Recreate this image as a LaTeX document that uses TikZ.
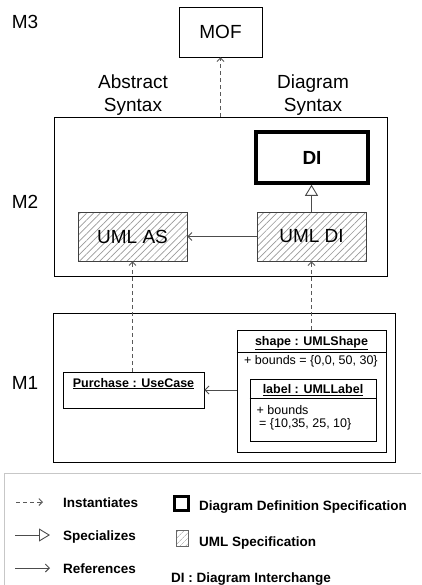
\documentclass[tikz,border=0pt]{standalone}
\usepackage{fontspec}
\setmainfont{Liberation Sans}
\usetikzlibrary{arrows.meta, positioning, patterns.meta}

\begin{document}
\begin{tikzpicture}[
    x=1pt, y=-1pt,
    lbl/.style={font=\fontsize{19}{23}\selectfont, align=center, inner sep=0pt},
    box/.style={draw, rectangle, line width=0.9pt, inner sep=0pt, font=\fontsize{19}{23}\selectfont},
    frame/.style={draw, rectangle, line width=0.9pt, inner sep=0pt},
    ddbox/.style={box, line width=3.5pt, font=\fontsize{19}{23}\selectfont\bfseries},
    umlbox/.style={box, draw=black!75, pattern={Lines[angle=45,distance=4.8pt,line width=0.7pt]}, pattern color=black!40},
    objbox/.style={draw, rectangle, line width=0.9pt, inner sep=0pt},
    objtitle/.style={font=\fontsize{12.5}{15}\selectfont\bfseries, inner sep=0pt, anchor=base},
    attr/.style={font=\fontsize{12.5}{15}\selectfont, inner sep=0pt, anchor=base west},
    inst/.style={dash pattern=on 4pt off 3pt, draw=black!65, line width=0.9pt, -{Straight Barb[length=3.5pt,width=7pt]}},
    spec/.style={draw=black!70, line width=0.9pt, -{Triangle[open,length=11pt,width=13pt,fill=white]}},
    refer/.style={draw=black!70, line width=0.9pt, -{Straight Barb[length=4pt,width=8pt]}},
    legtext/.style={font=\fontsize{13.5}{16}\selectfont\bfseries, inner sep=0pt, anchor=base west}
]
\useasboundingbox (0,0) rectangle (421,585);

% level labels
\node[lbl] (m3) at (25,22) {M3};
\node[lbl] (m2) at (25,202) {M2};
\node[lbl] (m1) at (25,383) {M1};

% M3
\node[box, minimum width=83, minimum height=50] (mof) at (220.5,32) {MOF};

% M2
\node[lbl] (abstract) at (133,95.5) {Abstract\\Syntax};
\node[lbl] (diagram) at (313,95.5) {Diagram\\Syntax};
\node[frame, minimum width=333, minimum height=159] (m2frame) at (220.5,196.5) {};
\node[ddbox, minimum width=112, minimum height=51] (di) at (312,157.5) {DI};
\node[umlbox, minimum width=109, minimum height=49] (umlas) at (132.5,236.5) {UML AS};
\node[umlbox, minimum width=109, minimum height=49] (umldi) at (311.5,236.5) {UML DI};

% M1
\node[frame, minimum width=342, minimum height=149] (m1frame) at (224,387.5) {};
\node[objbox, minimum width=141, minimum height=36] (purchase) at (133.5,390) {};
\node[objtitle] (purchasetitle) at (133.5,387) {\underline{Purchase : UseCase}};
\node[objbox, minimum width=149, minimum height=122] (shape) at (311.5,391) {};
\node[objtitle] (shapetitle) at (311.5,345) {\underline{shape : UMLShape}};
\node[attr] (shapebounds) at (244,364) {+ bounds = \{0,0, 50, 30\}};
\node[objbox, minimum width=126, minimum height=62] (label) at (313,410) {};
\node[objtitle] (labeltitle) at (313,393.5) {\underline{label : UMLLabel}};
\node[attr] (labelbounds) at (256.5,414) {+ bounds};
\node[attr] (labelvalue) at (259,427.5) {= \{10,35, 25, 10\}};
\draw[line width=0.9pt] (shape.west |- 0,352.5) -- (shape.east |- 0,352.5);
\draw[line width=0.9pt] (label.west |- 0,398) -- (label.east |- 0,398);

% connectors
\draw[inst] (m2frame.north) -- (mof.south);
\draw[spec] (umldi.north) -- (umldi.north |- di.south);
\draw[refer] (umldi.west) -- (umlas.east);
\draw[inst] (umlas.south |- purchase.north) -- (umlas.south);
\draw[inst] (shape.north) -- (umldi.south);
\draw[refer] (shape.west |- purchase.east) -- (purchase.east);

% legend
\draw[draw=black!22, line width=0.9pt] (421,473) -- (4,473) -- (4,585);
\coordinate (inst-a) at (16,502);
\coordinate (inst-b) at (43,502);
\draw[inst] (inst-a) -- (inst-b);
\node[legtext] (insttext) at (63,507) {Instantiates};
\coordinate (spec-a) at (15,535);
\coordinate (spec-b) at (50,535);
\draw[spec] (spec-a) -- (spec-b);
\node[legtext] (spectext) at (63,540) {Specializes};
\coordinate (ref-a) at (15,568);
\coordinate (ref-b) at (50,568);
\draw[refer] (ref-a) -- (ref-b);
\node[legtext] (reftext) at (63,573) {References};
\node[draw, line width=3pt, minimum size=14, inner sep=0pt] (ddskey) at (181.5,503.5) {};
\node[legtext] (ddstext) at (199,510) {Diagram Definition Specification};
\node[draw=black!60, line width=0.8pt, pattern={Lines[angle=45,distance=4pt,line width=0.6pt]}, pattern color=black!40, minimum width=12, minimum height=16, inner sep=0pt] (umlkey) at (182.5,538.5) {};
\node[legtext] (umltext) at (199,546) {UML Specification};
\node[legtext] (ditext) at (171,582) {DI : Diagram Interchange};
\end{tikzpicture}
\end{document}
